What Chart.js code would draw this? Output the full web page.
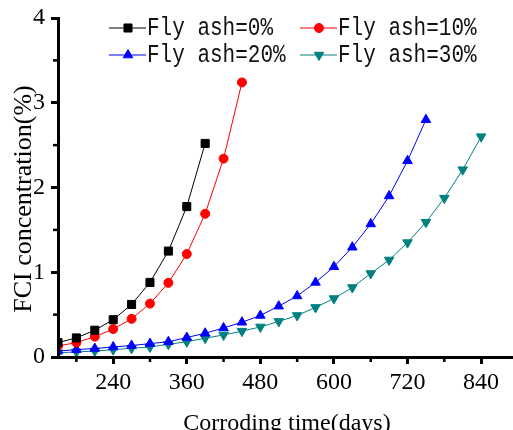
<!DOCTYPE html>
<html>
<head>
<meta charset="utf-8">
<script src="https://cdn.jsdelivr.net/npm/chart.js@4"></script>
<style>
    html, body { margin: 0; padding: 0; background: #fff; }
    canvas { display: block; }
</style>
</head>
<body>
<canvas id="myChart" width="513" height="430"></canvas>
<script>
// sampling days, every 30 days from day 150
const days = [150, 180, 210, 240, 270, 300, 330, 360, 390, 420, 450, 480,
    510, 540, 570, 600, 630, 660, 690, 720, 750, 780, 810, 840];

// FCI concentration (%) for each fly ash content
const flyAsh0 = [0.17, 0.225, 0.316, 0.44, 0.62, 0.88, 1.25, 1.775, 2.52];
const flyAsh10 = [0.13, 0.17, 0.24, 0.33, 0.45, 0.63, 0.875, 1.215, 1.69, 2.34, 3.24];
const flyAsh20 = [0.07, 0.087, 0.1, 0.118, 0.135, 0.158, 0.18, 0.23, 0.28, 0.343, 0.41,
    0.49, 0.6, 0.72, 0.88, 1.065, 1.295, 1.57, 1.9, 2.315, 2.8];
const flyAsh30 = [0.05, 0.06, 0.07, 0.087, 0.103, 0.118, 0.15, 0.18, 0.222, 0.26, 0.305,
    0.355, 0.42, 0.49, 0.585, 0.69, 0.82, 0.985, 1.145, 1.35, 1.59, 1.875, 2.21, 2.6];

const seriesLabels = ["Fly ash=0%", "Fly ash=10%", "Fly ash=20%", "Fly ash=30%"];
const xTickLabels = [240, 360, 480, 600, 720, 840];
const yTickLabels = [0, 1, 2, 3, 4];

const toPoints = (values) => values.map((v, i) => ({ x: days[i], y: v }));

const serif = "'Liberation Serif', 'Times New Roman', serif";

const makeSet = (label, values, color, style, radius, rotation) => ({
    label,
    data: toPoints(values),
    borderColor: color,
    backgroundColor: color,
    borderWidth: 1,
    pointStyle: style,
    pointRadius: radius,
    pointHoverRadius: radius,
    pointRotation: rotation,
    pointBorderWidth: 1,
    tension: 0,
    clip: { left: 0, bottom: 0, top: false, right: false },
});

const isMajorX = (v) => xTickLabels.includes(v);
const isMajorY = (v) => yTickLabels.includes(v);

// minor ticks, legend and axis titles
const decor = {
    id: "decor",
    afterDraw(chart) {
        const ctx = chart.ctx;
        const xs = chart.scales.x;
        const ys = chart.scales.y;
        const area = chart.chartArea;
        ctx.save();

        ctx.strokeStyle = "#000";
        ctx.lineWidth = 2.5;
        xs.ticks.forEach((t) => {
            if (isMajorX(t.value)) return;
            const px = xs.getPixelForValue(t.value);
            ctx.beginPath();
            ctx.moveTo(px, area.bottom);
            ctx.lineTo(px, area.bottom + 5);
            ctx.stroke();
        });
        ys.ticks.forEach((t) => {
            if (isMajorY(t.value)) return;
            const py = ys.getPixelForValue(t.value);
            ctx.beginPath();
            ctx.moveTo(area.left, py);
            ctx.lineTo(area.left - 5, py);
            ctx.stroke();
        });

        // legend: two columns, two rows
        const cols = [109, 300];
        const rows = [28, 55];
        chart.data.datasets.forEach((ds, i) => {
            const x0 = cols[i % 2];
            const y0 = rows[Math.floor(i / 2)];
            ctx.strokeStyle = ds.borderColor;
            ctx.lineWidth = 1;
            ctx.beginPath();
            ctx.moveTo(x0, y0);
            ctx.lineTo(x0 + 37, y0);
            ctx.stroke();
            ctx.fillStyle = ds.backgroundColor;
            Chart.helpers.drawPoint(ctx, {
                pointStyle: ds.pointStyle,
                radius: ds.pointRadius,
                rotation: ds.pointRotation,
                borderWidth: 1,
            }, x0 + 19, y0);

            ctx.save();
            ctx.translate(x0 + 38, y0 + 7);
            ctx.scale(0.84, 1);
            ctx.fillStyle = "#111";
            ctx.font = "25px 'Liberation Mono', monospace";
            ctx.textAlign = "left";
            ctx.textBaseline = "alphabetic";
            ctx.fillText(ds.label, 0, 0);
            ctx.restore();
        });

        // axis titles
        ctx.fillStyle = "#000";
        ctx.textAlign = "center";
        ctx.textBaseline = "alphabetic";
        ctx.font = "24px " + serif;
        ctx.fillText("Corroding time(days)", 287, 430);

        ctx.save();
        ctx.translate(31, 199);
        ctx.rotate(-Math.PI / 2);
        ctx.font = "26px " + serif;
        ctx.fillText("FCI concentration(%)", 0, 0);
        ctx.restore();

        ctx.restore();
    },
};

const initChart = () => {
    const ctx = document.getElementById("myChart").getContext("2d");

    new Chart(ctx, {
        type: "line",
        data: {
            datasets: [
                makeSet(seriesLabels[0], flyAsh0, "#000000", "rect", 5.7, 0),
                makeSet(seriesLabels[1], flyAsh10, "#FF0000", "circle", 4.5, 0),
                makeSet(seriesLabels[2], flyAsh20, "#0000FF", "triangle", 5.5, 0),
                makeSet(seriesLabels[3], flyAsh30, "#008080", "triangle", 5.5, 180),
            ],
        },
        options: {
            responsive: false,
            animation: false,
            devicePixelRatio: 1,
            layout: {
                autoPadding: false,
                padding: { top: 18, right: 0, left: 0, bottom: 0 },
            },
            plugins: {
                legend: { display: false },
                tooltip: { enabled: false },
            },
            scales: {
                x: {
                    type: "linear",
                    min: 150,
                    max: 892,
                    afterBuildTicks: (scale) => {
                        const ticks = [];
                        for (let v = 180; v <= 840; v += 60) ticks.push({ value: v });
                        scale.ticks = ticks;
                    },
                    afterFit: (scale) => {
                        scale.height = 73;
                        scale.paddingLeft = 0;
                        scale.paddingRight = 0;
                    },
                    ticks: {
                        autoSkip: false,
                        maxRotation: 0,
                        padding: 4,
                        color: "#000",
                        font: { family: serif, size: 24 },
                        callback: (v) => (isMajorX(v) ? String(v) : ""),
                    },
                    grid: {
                        drawOnChartArea: false,
                        drawTicks: true,
                        tickLength: 7,
                        tickWidth: 3,
                        tickColor: (c) => (c.tick && isMajorX(c.tick.value) ? "#000" : "rgba(0,0,0,0)"),
                    },
                    border: { display: true, color: "#000", width: 3, z: 1 },
                    title: { display: false },
                },
                y: {
                    type: "linear",
                    min: 0,
                    max: 4,
                    afterBuildTicks: (scale) => {
                        const ticks = [];
                        for (let v = 0; v <= 4; v += 0.5) ticks.push({ value: v });
                        scale.ticks = ticks;
                    },
                    afterFit: (scale) => {
                        scale.width = 58;
                        scale.paddingTop = 0;
                        scale.paddingBottom = 0;
                    },
                    ticks: {
                        padding: 6,
                        color: "#000",
                        font: { family: serif, size: 24 },
                        callback: (v) => (isMajorY(v) ? String(v) : ""),
                    },
                    grid: {
                        drawOnChartArea: false,
                        drawTicks: true,
                        tickLength: 7,
                        tickWidth: 3,
                        tickColor: (c) => (c.tick && isMajorY(c.tick.value) ? "#000" : "rgba(0,0,0,0)"),
                    },
                    border: { display: true, color: "#000", width: 3, z: 1 },
                    title: { display: false },
                },
            },
        },
        plugins: [decor],
    });
};

document.addEventListener("DOMContentLoaded", initChart);
</script>
</body>
</html>
